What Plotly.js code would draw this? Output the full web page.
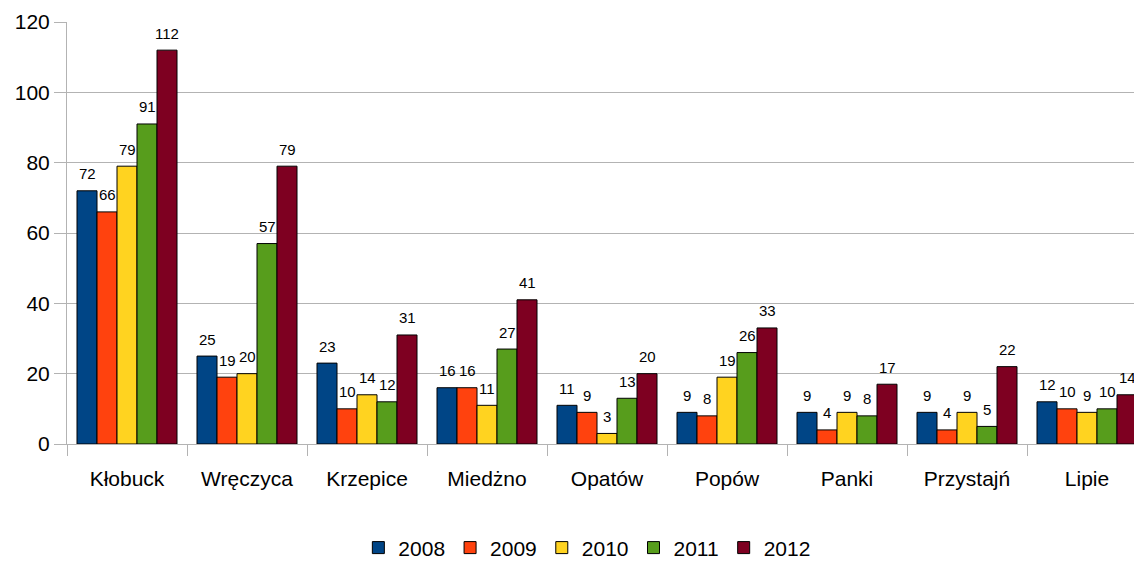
<!DOCTYPE html>
<html>
<head>
<meta charset="utf-8">
<script src="https://cdn.plot.ly/plotly-3.0.1.min.js"></script>
<style>html,body{margin:0;padding:0;background:#fff;}#chart{width:1134px;height:569px;}</style>
</head>
<body>
<div id="chart"></div>
<script>
const categories = ["Kłobuck", "Wręczyca", "Krzepice", "Miedżno", "Opatów", "Popów", "Panki", "Przystajń", "Lipie"];
const seriesNames = ["2008", "2009", "2010", "2011", "2012"];
const v2008 = [72, 25, 23, 16, 11, 9, 9, 9, 12];
const v2009 = [66, 19, 10, 16, 9, 8, 4, 4, 10];
const v2010 = [79, 20, 14, 11, 3, 19, 9, 9, 9];
const v2011 = [91, 57, 12, 27, 13, 26, 8, 5, 10];
const v2012 = [112, 79, 31, 41, 20, 33, 17, 22, 14];
const colors = ["#004586", "#ff420e", "#ffd320", "#579d1c", "#7e0021"];
const yTicks = [0, 20, 40, 60, 80, 100, 120];

const allValues = [v2008, v2009, v2010, v2011, v2012];
const FONT = "Liberation Sans, Arial, sans-serif";

const traces = allValues.map((vals, i) => ({
  type: "bar",
  name: seriesNames[i],
  x: categories,
  y: vals,
  marker: {color: colors[i], line: {color: "#000", width: 1}},
  hoverinfo: "skip"
}));

// data labels as annotations centered above each bar
const nS = allValues.length;
const barPx = 20; // approximate bar width in px for offset
const annotations = [];
allValues.forEach((vals, i) => {
  vals.forEach((v, j) => {
    annotations.push({
      x: categories[j], y: v, xref: "x", yref: "y",
      text: String(v), showarrow: false,
      xshift: (i - (nS - 1) / 2) * barPx,
      yshift: 17, yanchor: "middle",
      font: {family: FONT, size: 15, color: "#000"}
    });
  });
});

const layout = {
  width: 1134, height: 569,
  margin: {l: 67, r: 0, t: 22, b: 125},
  paper_bgcolor: "#fff", plot_bgcolor: "#fff",
  font: {family: FONT, color: "#000"},
  barmode: "group",
  bargap: 0.1667,
  bargroupgap: 0,
  showlegend: true,
  legend: {
    orientation: "h", xref: "container", x: 0.316, xanchor: "left",
    yref: "container", y: 0.037, yanchor: "middle",
    font: {family: FONT, size: 21, color: "#000"},
    itemwidth: 30, tracegroupgap: 0
  },
  xaxis: {
    type: "category",
    range: [-0.5, -0.5 + 1067 / 120],
    tickson: "boundaries",
    ticks: "outside", ticklen: 11, tickcolor: "#b3b3b3", tickwidth: 1,
    ticklabelstandoff: 16,
    showline: true, linecolor: "#b3b3b3", linewidth: 1,
    showgrid: false, zeroline: false,
    tickfont: {family: FONT, size: 21, color: "#000"},
    fixedrange: true
  },
  yaxis: {
    range: [0, 120],
    tickvals: yTicks,
    ticks: "outside", ticklen: 12, tickcolor: "#b3b3b3", tickwidth: 1,
    showline: true, linecolor: "#b3b3b3", linewidth: 1,
    showgrid: true, gridcolor: "#b3b3b3", gridwidth: 1,
    zeroline: false,
    tickfont: {family: FONT, size: 21, color: "#000"},
    fixedrange: true
  },
  annotations: annotations
};

Plotly.newPlot("chart", traces, layout, {displayModeBar: false, staticPlot: true});
</script>
</body>
</html>
